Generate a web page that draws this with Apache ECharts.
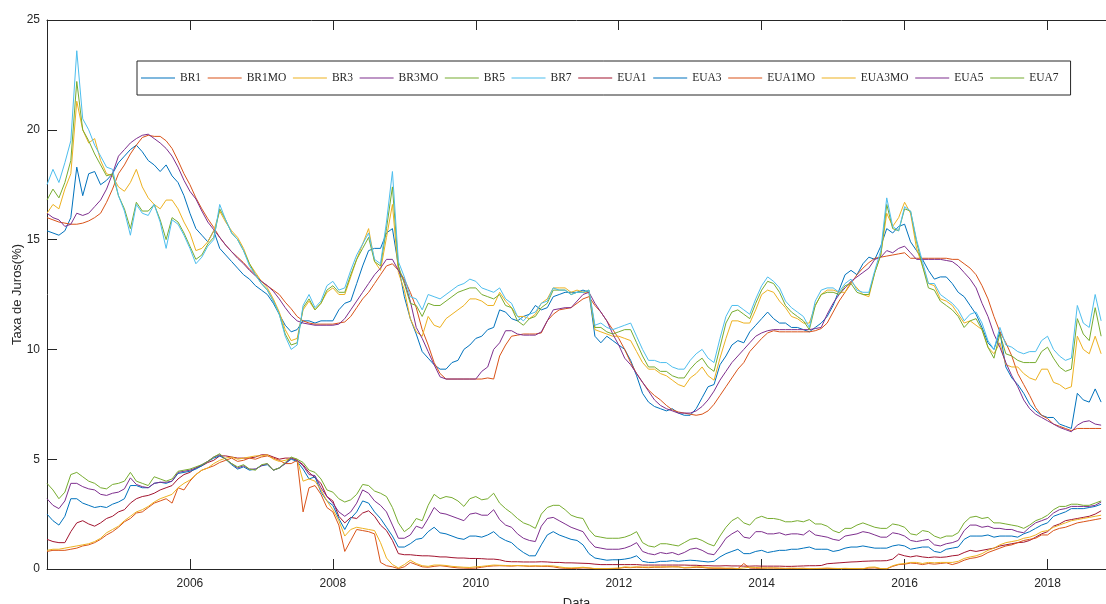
<!DOCTYPE html>
<html>
<head>
<meta charset="utf-8">
<script src="https://cdn.jsdelivr.net/npm/echarts@6/dist/echarts.min.js"></script>
<style>
  html, body { margin: 0; padding: 0; background: #ffffff; }
  #chart { width: 1106px; height: 604px; }
</style>
</head>
<body>
<div id="chart"></div>
<script>
// Monthly observations, Jan 2004 .. Oct 2018 (one row per year)
const months = [];
for (let y = 2004; y <= 2018; y++) {
  for (let m = 1; m <= 12; m++) {
    if (y === 2018 && m > 10) break;
    months.push(y + '-' + String(m).padStart(2, '0'));
  }
}

const BR1 = [
  15.4, 15.3, 15.2, 15.4, 16.0, 18.3, 17.0, 18.0, 18.1, 17.5, 17.7, 18.0,
  18.5, 18.8, 19.1, 19.3, 19.0, 18.6, 18.4, 18.1, 18.4, 17.9, 17.6, 17.0,
  16.2, 15.5, 15.2, 14.9, 15.4, 14.6, 14.3, 14.0, 13.7, 13.4, 13.2, 12.9,
  12.7, 12.5, 12.1, 11.6, 11.1, 10.8, 10.9, 11.3, 11.3, 11.2, 11.3, 11.3,
  11.3, 11.8, 12.1, 12.2, 13.0, 13.8, 14.5, 14.6, 14.6, 15.3, 15.5, 13.8,
  12.4, 11.4, 10.7, 9.9, 9.6, 9.3, 9.1, 9.1, 9.4, 9.5, 10.0, 10.2,
  10.5, 10.6, 10.9, 11.0, 11.8, 11.7, 11.4, 11.3, 11.5, 11.6, 12.0, 11.8,
  11.9, 12.4, 12.5, 12.6, 12.6, 12.6, 12.7, 12.6, 10.6, 10.3, 10.6, 10.4,
  10.2, 10.0, 9.5, 8.8, 8.0, 7.6, 7.4, 7.3, 7.2, 7.3, 7.1, 7.0,
  7.0, 7.3, 7.8, 8.3, 8.4, 9.3, 9.7, 10.2, 10.4, 10.3, 10.8, 11.1,
  11.4, 11.7, 11.4, 11.2, 11.2, 11.0, 11.0, 10.9, 10.8, 11.0, 11.2, 11.5,
  12.0, 12.7, 13.4, 13.6, 13.4, 13.9, 14.2, 14.1, 14.7, 15.5, 15.3, 15.6,
  15.7, 14.9, 14.5, 14.1, 13.6, 13.2, 13.3, 13.3, 13.0, 12.6, 12.4, 12.0,
  11.6, 11.0, 10.3, 10.0, 10.8, 9.2, 8.7, 8.4, 8.0, 7.5, 7.2, 7.0,
  6.9, 6.9, 6.6, 6.5, 6.4, 8.0, 7.7, 7.6, 8.2, 7.6
];
const BR1MO = [
  16.0, 15.9, 15.8, 15.75, 15.7, 15.7, 15.75, 15.85, 16.0, 16.2, 16.7, 17.3,
  18.0, 18.4, 18.9, 19.3, 19.65, 19.75, 19.7, 19.7, 19.5, 19.15, 18.6, 18.0,
  17.5, 16.9, 16.4, 15.95, 15.55, 15.1, 14.75, 14.45, 14.2, 13.95, 13.65, 13.4,
  13.1, 12.9, 12.7, 12.5, 12.15, 11.85, 11.5, 11.3, 11.2, 11.15, 11.15, 11.15,
  11.15, 11.2, 11.25, 11.5, 11.9, 12.3, 12.6, 13.0, 13.4, 13.8, 13.9, 13.6,
  13.2, 12.6, 11.9, 10.9, 10.2, 9.4, 8.9, 8.65, 8.65, 8.65, 8.65, 8.65,
  8.65, 8.65, 8.7, 8.65, 9.7, 10.2, 10.6, 10.65, 10.7, 10.7, 10.7, 10.75,
  11.3, 11.6, 11.8, 11.85, 11.9, 12.1, 12.3, 12.4, 12.0, 11.7, 11.3, 10.9,
  10.5, 10.0, 9.4, 8.9, 8.5, 8.15, 7.9, 7.7, 7.45, 7.25, 7.15, 7.1,
  7.05, 7.0, 7.05, 7.2, 7.5, 7.9, 8.3, 8.7, 9.1, 9.4, 9.9, 10.2,
  10.5, 10.75, 10.85, 10.8, 10.8, 10.8, 10.8, 10.8, 10.8, 10.85, 10.95, 11.2,
  11.7, 12.2, 12.6, 13.0, 13.4, 13.7, 13.95, 14.15, 14.2, 14.25, 14.3, 14.35,
  14.4, 14.15, 14.15, 14.15, 14.15, 14.15, 14.15, 14.15, 14.1, 14.1, 13.9, 13.7,
  13.4, 12.9, 12.3, 11.5, 10.8, 10.3, 9.7, 8.9, 8.4, 7.9, 7.35, 7.0,
  6.85, 6.6, 6.5, 6.4, 6.3, 6.4, 6.4, 6.4, 6.4, 6.4
];
const BR3 = [
  16.2, 16.6, 16.4, 17.3, 18.0, 21.3, 20.0, 19.4, 19.6, 18.6, 18.0, 17.9,
  17.4, 17.2, 17.6, 18.2, 17.4, 16.9, 16.6, 16.4, 16.8, 16.8, 16.4, 15.8,
  15.3, 14.5, 14.6, 14.9, 15.4, 16.3, 15.8, 15.4, 15.1, 14.6, 13.9, 13.5,
  13.1, 12.8, 12.3, 11.7, 10.9, 10.4, 10.5, 11.8, 12.2, 11.8, 12.1, 12.6,
  12.8, 12.5, 12.5, 13.3, 14.1, 14.8, 15.5, 14.0, 13.6, 15.1, 16.6, 13.5,
  12.7, 11.4, 10.8, 10.6, 11.5, 11.1, 11.0, 11.4, 11.6, 11.8, 12.0, 12.3,
  12.3, 12.2, 12.0, 12.0, 12.6, 12.2, 11.9, 11.5, 11.5, 11.4, 11.6, 12.1,
  12.3, 12.8, 12.8, 12.8, 12.6, 12.7, 12.6, 12.6, 10.9, 10.8, 10.7, 10.6,
  10.6, 10.5, 10.4, 9.9, 9.4, 9.1, 9.1, 8.9, 8.8, 8.6, 8.4, 8.3,
  8.7, 8.9, 9.2, 8.8, 8.6, 9.6, 10.5, 11.3, 11.3, 11.2, 11.2, 11.8,
  12.5, 12.7, 12.6, 12.2, 11.9, 11.5, 11.4, 11.2, 11.2, 12.0, 12.5, 12.7,
  12.7, 12.6, 12.6, 13.1, 12.8, 12.5, 12.4, 13.5, 14.3, 16.2, 15.6, 16.0,
  16.7, 16.2, 14.6, 13.8, 13.0, 12.9, 12.3, 12.2, 12.0, 11.6, 11.2, 11.3,
  11.1, 10.9, 10.1, 9.8, 10.3, 9.3, 9.2, 9.2, 8.9, 8.7, 8.6, 9.1,
  9.1, 8.5, 8.4, 8.2, 8.3, 10.6, 10.0, 9.8, 10.6, 9.8
];
const BR3MO = [
  16.2, 16.0, 15.9, 15.6, 15.7, 16.2, 16.1, 16.2, 16.5, 16.8, 17.3, 18.0,
  18.8, 19.1, 19.4, 19.6, 19.75, 19.8, 19.6, 19.4, 19.15, 18.8, 18.3, 17.7,
  17.2, 16.85, 16.3, 15.8, 15.45, 15.1, 14.75, 14.45, 14.15, 13.9, 13.6, 13.35,
  13.1, 12.9, 12.65, 12.3, 11.9, 11.55, 11.3, 11.2, 11.15, 11.1, 11.1, 11.1,
  11.1, 11.15, 11.4, 11.8, 12.2, 12.6, 13.0, 13.4, 13.7, 14.1, 14.1, 13.6,
  13.1, 12.2, 11.0, 10.5, 9.9, 9.3, 8.75, 8.65, 8.65, 8.65, 8.65, 8.65,
  8.65, 9.0, 9.2, 10.0, 10.3, 10.85, 10.85, 10.7, 10.65, 10.65, 10.65, 10.8,
  11.3, 11.8, 11.85, 11.9, 11.9, 12.2, 12.5, 12.6, 12.1, 11.7, 11.3, 10.7,
  10.2, 9.6, 9.3, 8.9, 8.5, 8.1, 7.7, 7.45, 7.3, 7.2, 7.1, 7.1,
  7.1, 7.2, 7.4, 7.7, 8.1, 8.6, 9.0, 9.4, 9.7, 10.0, 10.3, 10.6,
  10.75, 10.85, 10.9, 10.9, 10.9, 10.9, 10.9, 10.9, 10.9, 10.95, 11.0, 11.6,
  12.1, 12.5, 12.8, 13.1, 13.3, 13.5, 13.7, 14.1, 14.2, 14.5, 14.4, 14.6,
  14.7, 14.4, 14.1, 14.1, 14.1, 14.1, 14.1, 14.05, 14.0, 13.8, 13.5, 13.2,
  12.8, 12.1, 11.5, 10.7, 10.1, 9.4, 8.8, 8.3, 7.7, 7.3, 7.05, 6.9,
  6.75, 6.6, 6.45, 6.35, 6.25, 6.55, 6.7, 6.75, 6.6, 6.55
];
const BR5 = [
  16.8, 17.3, 16.9, 17.6, 18.6, 22.2, 20.0, 19.5, 18.9, 18.4, 17.9, 18.0,
  17.0, 16.4, 15.5, 16.7, 16.3, 16.3, 16.6, 15.9, 15.0, 16.0, 15.8, 15.3,
  14.7, 14.1, 14.3, 14.8, 15.1, 16.4, 15.9, 15.3, 15.0, 14.5, 13.9, 13.4,
  13.0, 12.7, 12.2, 11.6, 10.7, 10.2, 10.3, 11.9, 12.3, 11.8, 12.1, 12.7,
  12.9, 12.6, 12.6, 13.4, 14.1, 14.6, 15.1, 14.0, 13.8, 15.5, 17.4, 13.8,
  13.0, 12.1, 12.0, 11.5, 12.1, 12.0, 12.0, 12.2, 12.4, 12.6, 12.7, 12.8,
  12.8, 12.5, 12.4, 12.3, 12.5, 12.0, 11.9, 11.3, 11.1, 11.4, 11.5, 11.9,
  12.1, 12.7, 12.7, 12.7, 12.5, 12.6, 12.6, 12.7, 11.0, 11.0, 10.8, 10.7,
  10.8, 10.9, 10.9, 10.3, 9.7, 9.2, 9.2, 9.0, 9.0, 8.8, 8.7, 8.7,
  9.1, 9.4, 9.6, 9.2, 9.0, 10.1, 11.2, 11.7, 11.8, 11.6, 11.4, 12.1,
  12.7, 13.1, 13.0, 12.6, 12.0, 11.7, 11.5, 11.3, 10.9, 12.0, 12.5, 12.6,
  12.6, 12.5, 12.9, 13.0, 12.6, 12.5, 12.5, 13.5, 14.3, 16.6, 15.5, 15.4,
  16.4, 16.3, 14.9, 13.8, 12.8, 12.7, 12.2, 12.0, 11.8, 11.5, 11.0, 11.3,
  11.4, 10.9, 10.1, 9.6, 10.7, 9.8, 9.7, 9.5, 9.4, 9.4, 9.4, 9.9,
  10.1, 9.6, 9.2, 9.0, 9.1, 11.4, 10.7, 10.4, 11.9, 10.6
];
const BR7 = [
  17.5, 18.2, 17.6, 18.5, 19.5, 23.6, 20.5, 20.0, 19.3, 18.8, 18.3, 18.2,
  17.0, 16.3, 15.2, 16.6, 16.2, 16.1, 16.6, 15.8, 14.6, 15.9, 15.7, 15.2,
  14.6, 13.9, 14.2, 14.7, 15.0, 16.6, 15.9, 15.3, 15.0, 14.5, 13.8, 13.4,
  13.0, 12.7, 12.2, 11.6, 10.6, 10.0, 10.2, 12.0, 12.5, 11.9, 12.2, 12.9,
  13.1, 12.7, 12.8, 13.6, 14.3, 14.8, 15.3, 14.1, 13.9, 15.8, 18.1, 14.0,
  13.3, 12.4, 12.3, 11.8, 12.5, 12.4, 12.3, 12.5, 12.7, 12.9, 13.0, 13.2,
  13.1, 12.8, 12.7, 12.6, 12.8, 12.3, 12.1, 11.5, 11.3, 11.6, 11.7, 12.1,
  12.2, 12.8, 12.7, 12.7, 12.5, 12.6, 12.6, 12.7, 11.1, 11.2, 11.0, 10.9,
  11.0, 11.1, 11.2, 10.6, 10.0, 9.5, 9.5, 9.4, 9.4, 9.2, 9.1, 9.1,
  9.5, 9.8, 10.0, 9.6, 9.4, 10.5, 11.5, 12.0, 12.0, 11.8, 11.6, 12.3,
  12.9, 13.3, 13.1, 12.8, 12.2, 11.9, 11.7, 11.5, 11.0, 12.2, 12.7, 12.8,
  12.8, 12.6, 13.0, 13.2, 12.7, 12.6, 12.6, 13.6, 14.5, 16.9, 15.6, 15.4,
  16.5, 16.3, 15.0, 14.0, 13.0, 13.0, 12.5, 12.3, 12.1, 11.8, 11.3, 11.6,
  11.7, 11.2, 10.4, 10.0, 11.0, 10.2, 10.1, 9.9, 9.8, 9.9, 9.9, 10.4,
  10.6, 10.0, 9.7, 9.5, 9.6, 12.0, 11.2, 11.0, 12.5, 11.3
];
const EUA1 = [
  1.35, 1.25, 1.2, 1.2, 1.7, 2.1, 2.2, 2.05, 1.95, 2.1, 2.3, 2.4,
  2.6, 2.7, 3.0, 3.2, 3.3, 3.35, 3.45, 3.6, 3.7, 3.8, 4.1, 4.3,
  4.4, 4.6, 4.7, 4.85, 4.95, 5.15, 5.15, 5.1, 5.05, 5.05, 5.05, 5.1,
  5.2, 5.2, 5.1, 5.0, 5.05, 5.05, 4.95, 4.75, 4.4, 4.15, 3.9, 3.3,
  3.1, 2.4, 2.1, 2.35, 2.3, 2.55, 2.65, 2.4, 2.0, 1.75, 1.3, 0.7,
  0.65, 0.65, 0.62, 0.6, 0.6, 0.58, 0.55, 0.55, 0.52, 0.5, 0.5, 0.48,
  0.48, 0.47, 0.45, 0.45, 0.42, 0.35, 0.33, 0.33, 0.32, 0.32, 0.32, 0.33,
  0.32, 0.3, 0.3, 0.28, 0.28, 0.27, 0.26, 0.25, 0.22, 0.2, 0.2, 0.2,
  0.2, 0.2, 0.2, 0.2, 0.18, 0.18, 0.18, 0.18, 0.18, 0.18, 0.18, 0.18,
  0.17, 0.17, 0.15, 0.15, 0.14, 0.14, 0.15, 0.14, 0.14, 0.13, 0.13, 0.14,
  0.13, 0.13, 0.13, 0.13, 0.12, 0.12, 0.13, 0.14, 0.15, 0.15, 0.16, 0.24,
  0.26, 0.28, 0.3, 0.32, 0.33, 0.35, 0.36, 0.37, 0.37, 0.38, 0.45, 0.68,
  0.6, 0.55, 0.6, 0.55, 0.52, 0.55, 0.53, 0.55, 0.6, 0.63, 0.75, 0.85,
  0.8, 0.85, 0.9, 0.95, 1.05, 1.1, 1.15, 1.2, 1.22, 1.3, 1.45, 1.6,
  1.7, 1.95, 2.05, 2.2, 2.25, 2.3, 2.35, 2.4, 2.5, 2.65
];
const EUA3 = [
  2.5, 2.2, 2.0, 2.4, 3.2, 3.2, 3.0, 2.9, 2.8, 2.85, 2.8, 2.95,
  3.05, 3.2, 3.8, 3.8, 3.7, 3.7, 3.9, 3.95, 3.9, 4.0, 4.35, 4.4,
  4.45, 4.55, 4.7, 4.9, 5.05, 5.15, 5.0, 4.75, 4.55, 4.65, 4.5, 4.55,
  4.7, 4.75, 4.5, 4.6, 4.8, 5.0, 4.9, 4.55, 4.1, 4.2, 3.5, 3.1,
  2.9, 2.3, 1.8, 2.3, 2.6, 3.1, 3.0, 2.6, 2.3, 1.9, 1.5, 1.0,
  1.0, 1.15, 1.35, 1.4, 1.7, 1.9, 1.65, 1.6, 1.5, 1.4, 1.35, 1.5,
  1.5, 1.45, 1.55, 1.7, 1.45, 1.3, 1.2, 0.95, 0.75, 0.6, 0.6, 1.1,
  1.55, 1.7, 1.55, 1.45, 1.35, 1.3, 1.1, 0.7, 0.5, 0.45, 0.4, 0.42,
  0.42, 0.45, 0.5, 0.6, 0.35, 0.3, 0.3, 0.35, 0.35, 0.38, 0.35, 0.38,
  0.4, 0.38, 0.35, 0.32, 0.35, 0.55, 0.7, 0.8, 0.9, 0.7, 0.7, 0.8,
  0.85, 0.75, 0.8, 0.85, 0.85, 0.9, 0.9, 0.95, 1.0, 0.9, 0.9, 0.9,
  0.8, 0.85, 0.95, 1.0, 1.0, 1.05, 1.0, 0.95, 0.95, 0.95, 1.05, 1.1,
  1.05, 0.9, 0.95, 1.0, 1.0, 0.8, 0.75, 0.9, 0.95, 1.0, 1.35, 1.5,
  1.5, 1.5, 1.55, 1.45, 1.5, 1.5, 1.5, 1.45, 1.6, 1.7, 1.85, 2.0,
  2.1, 2.4, 2.5, 2.6, 2.75, 2.75, 2.75, 2.8, 2.85, 2.95
];
const EUA1MO = [
  0.8, 0.85, 0.85, 0.85, 0.9, 0.95, 1.05, 1.1, 1.2, 1.35, 1.55, 1.7,
  1.9, 2.15, 2.3, 2.55, 2.6, 2.8, 3.0, 3.1, 3.2, 3.0, 3.7, 3.6,
  4.0, 4.3, 4.5, 4.6, 4.7, 4.85, 4.95, 5.05, 4.9, 4.95, 5.05, 5.0,
  5.1, 5.15, 5.05, 4.95, 4.8, 4.8, 4.95, 2.6, 3.7, 3.8, 3.4, 2.8,
  2.6, 2.0, 0.8, 1.3, 1.8, 1.75, 1.7, 1.6, 0.3, 0.15, 0.1, 0.02,
  0.1, 0.3, 0.2, 0.1, 0.08, 0.12, 0.15, 0.12, 0.08, 0.05, 0.04, 0.03,
  0.04, 0.08, 0.12, 0.14, 0.15, 0.14, 0.13, 0.15, 0.14, 0.12, 0.13, 0.12,
  0.12, 0.1, 0.05, 0.03, 0.02, 0.03, 0.05, 0.04, 0.01, 0.01, 0.01, 0.02,
  0.03, 0.07, 0.06, 0.08, 0.07, 0.06, 0.08, 0.08, 0.09, 0.1, 0.1, 0.05,
  0.06, 0.08, 0.07, 0.04, 0.03, 0.03, 0.02, 0.03, 0.01, 0.25, 0.04, 0.03,
  0.03, 0.04, 0.04, 0.03, 0.02, 0.02, 0.02, 0.03, 0.01, 0.02, 0.02, 0.03,
  0.02, 0.02, 0.02, 0.01, 0.01, 0.01, 0.04, 0.05, 0.01, 0.01, 0.12, 0.2,
  0.22, 0.27, 0.25, 0.2, 0.25, 0.22, 0.25, 0.28, 0.2, 0.28, 0.4, 0.48,
  0.52, 0.6, 0.75, 0.85, 0.95, 1.05, 1.1, 1.2, 1.3, 1.35, 1.4, 1.55,
  1.55, 1.75, 1.85, 1.9, 2.0, 2.1, 2.15, 2.2, 2.25, 2.3
];
const EUA3MO = [
  0.85, 0.9, 0.9, 0.95, 1.0, 1.05, 1.1, 1.15, 1.25, 1.4, 1.65, 1.8,
  1.95, 2.2, 2.4, 2.6, 2.7, 2.85, 3.05, 3.2, 3.3, 3.4, 3.7, 3.9,
  4.05, 4.3, 4.5, 4.6, 4.8, 4.95, 5.05, 5.1, 5.0, 5.05, 5.1, 5.15,
  5.15, 5.2, 5.0, 4.9, 4.95, 5.05, 5.0, 4.0, 4.1, 4.0, 3.6, 3.1,
  2.7, 2.2, 1.5, 1.8, 1.9, 1.85, 1.8, 1.75, 1.2, 0.5, 0.2, 0.05,
  0.2, 0.4, 0.25, 0.15, 0.12, 0.18, 0.18, 0.16, 0.12, 0.1, 0.08, 0.07,
  0.1, 0.12, 0.15, 0.18, 0.17, 0.16, 0.15, 0.16, 0.15, 0.14, 0.15, 0.14,
  0.15, 0.14, 0.1, 0.06, 0.05, 0.06, 0.08, 0.05, 0.02, 0.02, 0.02, 0.03,
  0.04, 0.1, 0.08, 0.1, 0.09, 0.09, 0.1, 0.1, 0.1, 0.1, 0.09, 0.07,
  0.08, 0.1, 0.1, 0.06, 0.05, 0.05, 0.04, 0.04, 0.02, 0.05, 0.08, 0.07,
  0.05, 0.05, 0.05, 0.04, 0.03, 0.04, 0.03, 0.03, 0.02, 0.02, 0.03, 0.04,
  0.03, 0.02, 0.03, 0.02, 0.02, 0.01, 0.08, 0.09, 0.02, 0.01, 0.15, 0.22,
  0.25, 0.3, 0.3, 0.25, 0.3, 0.28, 0.3, 0.3, 0.3, 0.35, 0.48, 0.55,
  0.6, 0.7, 0.85, 0.95, 1.1, 1.2, 1.25, 1.3, 1.4, 1.45, 1.55, 1.7,
  1.75, 1.9, 2.0, 2.1, 2.2, 2.25, 2.3, 2.35, 2.4, 2.45
];
const EUA5 = [
  3.2, 2.9, 2.75, 3.1, 3.9, 3.9, 3.75, 3.65, 3.6, 3.4, 3.35, 3.45,
  3.5, 3.65, 4.15, 3.85, 3.75, 3.7, 3.9, 3.95, 3.95, 4.0, 4.4, 4.45,
  4.5, 4.6, 4.75, 4.9, 5.1, 5.2, 5.0, 4.8, 4.6, 4.7, 4.55, 4.55,
  4.7, 4.8, 4.5, 4.6, 4.8, 5.05, 4.95, 4.7, 4.3, 4.25, 3.7, 3.3,
  3.0, 2.6, 2.4, 2.6, 3.0, 3.6, 3.45, 3.1, 2.9, 2.6, 2.0, 1.4,
  1.4, 1.55, 1.95, 1.85, 2.3, 2.8, 2.55, 2.5, 2.4, 2.3, 2.2, 2.5,
  2.55, 2.45, 2.45, 2.7, 2.25, 2.0, 1.9, 1.6, 1.4, 1.3, 1.25, 1.95,
  2.3, 2.35, 2.2, 2.05, 1.9, 1.8, 1.7, 1.3, 1.0, 0.95, 0.9, 0.9,
  0.9, 0.95, 1.05, 1.2, 0.8, 0.7, 0.65, 0.75, 0.7, 0.75, 0.65, 0.75,
  0.9, 0.95, 0.85, 0.7, 0.65, 1.0, 1.4, 1.6, 1.75, 1.45, 1.4, 1.7,
  1.7, 1.6, 1.6, 1.65, 1.55, 1.6, 1.6, 1.55, 1.75, 1.55, 1.5, 1.45,
  1.35, 1.3, 1.5, 1.55, 1.6, 1.7, 1.65, 1.55, 1.45, 1.45, 1.65, 1.6,
  1.5, 1.3, 1.25, 1.3, 1.35, 1.1, 1.05, 1.15, 1.2, 1.3, 1.75, 2.0,
  2.0, 1.9, 1.95, 1.85, 1.85, 1.8, 1.8, 1.7, 1.65, 1.9, 2.1, 2.2,
  2.3, 2.55, 2.7, 2.75, 2.85, 2.85, 2.85, 2.85, 2.9, 3.05
];
const EUA7 = [
  3.9, 3.6, 3.2, 3.5, 4.3, 4.4, 4.2, 4.0, 3.9, 3.7, 3.65, 3.85,
  3.9, 4.0, 4.4, 4.0, 3.9, 3.8, 4.2, 4.1, 4.0, 4.1, 4.45, 4.5,
  4.55, 4.65, 4.75, 4.9, 5.1, 5.25, 5.0, 4.8, 4.65, 4.75, 4.55, 4.5,
  4.75, 4.8, 4.5, 4.6, 4.85, 5.1, 5.0, 4.85, 4.5, 4.4, 4.1, 3.6,
  3.5, 3.2, 3.05, 3.15, 3.4, 3.85, 3.8, 3.55, 3.45, 3.3, 2.8, 2.1,
  1.7, 1.9, 2.3, 2.2, 2.9, 3.4, 3.2, 3.3, 3.25, 3.1, 2.85, 3.2,
  3.3, 3.15, 3.2, 3.45, 3.0, 2.75, 2.55, 2.3, 2.1, 2.0, 1.85, 2.5,
  2.8, 2.9, 2.9, 2.7, 2.45, 2.35, 2.3, 1.8, 1.5, 1.45, 1.4, 1.4,
  1.4, 1.45, 1.55, 1.7, 1.2, 1.05, 1.0, 1.15, 1.15, 1.1, 1.05, 1.2,
  1.35, 1.4, 1.3, 1.15, 1.05, 1.5, 1.9, 2.2, 2.35, 2.1, 2.0, 2.3,
  2.4, 2.3, 2.3, 2.25, 2.15, 2.15, 2.2, 2.15, 2.25, 2.05, 2.05, 1.95,
  1.75, 1.65, 1.85, 1.85, 2.0, 2.1, 2.0, 1.9, 1.85, 1.85, 2.05, 2.0,
  1.9, 1.6, 1.55, 1.75, 1.7, 1.5, 1.4, 1.5, 1.5, 1.65, 2.1, 2.35,
  2.4, 2.3, 2.35, 2.1, 2.1, 2.05, 2.0, 1.95, 1.85, 2.0, 2.2, 2.3,
  2.45, 2.7, 2.85, 2.85, 2.95, 2.95, 2.9, 2.9, 3.0, 3.1
];

// name, values, colour (drawn in this order, later on top)
const seriesList = [
  ['BR1', BR1, '#0072BD'],
  ['BR1MO', BR1MO, '#D95319'],
  ['BR3', BR3, '#EDB120'],
  ['BR3MO', BR3MO, '#7E2F8E'],
  ['BR5', BR5, '#77AC30'],
  ['BR7', BR7, '#4DBEEE'],
  ['EUA1', EUA1, '#A2142F'],
  ['EUA3', EUA3, '#0072BD'],
  ['EUA1MO', EUA1MO, '#D95319'],
  ['EUA3MO', EUA3MO, '#EDB120'],
  ['EUA5', EUA5, '#7E2F8E'],
  ['EUA7', EUA7, '#77AC30']
];

// month label -> fractional year on the date axis
const yearPos = s => { const p = s.split('-'); return +p[0] + (+p[1] - 1) / 12; };
const xPos = months.map(yearPos);

const X_MIN = 2004;
const X_MAX = 2018.818;
const axisColor = '#262626';
const sans = 'Liberation Sans, Arial, Helvetica, sans-serif';

const chart = echarts.init(document.getElementById('chart'), null, { renderer: 'canvas' });

chart.setOption({
  animation: false,
  backgroundColor: '#ffffff',
  grid: { left: 47, right: 0, top: 20, bottom: 35, containLabel: false, outerBoundsMode: 'none' },
  legend: {
    data: seriesList.map(s => s[0]),
    // plain short stroke as the key marker
    icon: 'path://M0,0 L34,0 L34,1.2 L0,1.2 Z',
    symbolKeepAspect: true,
    left: 137,
    top: 61,
    orient: 'horizontal',
    itemWidth: 34,
    itemHeight: 12,
    itemGap: 6.6,
    padding: [11, 12, 11, 4],
    borderColor: axisColor,
    borderWidth: 1,
    backgroundColor: '#ffffff',
    selectedMode: false,
    itemStyle: { borderWidth: 0 },
    textStyle: { fontFamily: 'Liberation Serif, DejaVu Serif, serif', fontSize: 11.5, color: axisColor }
  },
  xAxis: [
    {
      type: 'value',
      position: 'bottom',
      min: X_MIN,
      max: X_MAX,
      interval: 2,
      name: 'Data',
      nameLocation: 'middle',
      nameGap: 28,
      nameMoveOverlap: false,
      nameTextStyle: { fontFamily: sans, fontSize: 13, color: axisColor },
      axisLine: { show: true, onZero: false, lineStyle: { color: axisColor, width: 1 } },
      axisTick: { show: true, inside: true, length: 10, lineStyle: { color: axisColor, width: 1 } },
      axisLabel: {
        show: true, showMinLabel: false, showMaxLabel: false, margin: 9,
        fontFamily: sans, fontSize: 12, color: axisColor,
        formatter: v => String(Math.round(v))
      },
      splitLine: { show: false }
    },
    {
      type: 'value',
      position: 'top',
      min: X_MIN,
      max: X_MAX,
      interval: 2,
      axisLine: { show: true, onZero: false, lineStyle: { color: axisColor, width: 1 } },
      axisTick: { show: true, inside: true, length: 10, lineStyle: { color: axisColor, width: 1 } },
      axisLabel: { show: false },
      splitLine: { show: false }
    }
  ],
  yAxis: {
    type: 'value',
    min: 0,
    max: 25,
    interval: 5,
    name: 'Taxa de Juros(%)',
    nameLocation: 'middle',
    nameGap: 23,
    nameMoveOverlap: false,
    nameRotate: 90,
    nameTextStyle: { fontFamily: sans, fontSize: 13, color: axisColor },
    axisLine: { show: true, onZero: false, lineStyle: { color: axisColor, width: 1 } },
    axisTick: { show: true, inside: true, length: 10, lineStyle: { color: axisColor, width: 1 } },
    axisLabel: { margin: 7, fontFamily: sans, fontSize: 12, color: axisColor },
    splitLine: { show: false }
  },
  series: seriesList.map(([name, vals, color]) => ({
    name: name,
    type: 'line',
    xAxisIndex: 0,
    data: vals.map((v, i) => [xPos[i], v]),
    symbol: 'none',
    showSymbol: false,
    silent: true,
    clip: true,
    lineStyle: { width: 1, color: color },
    itemStyle: { color: color },
    emphasis: { disabled: true }
  }))
});
</script>
</body>
</html>
